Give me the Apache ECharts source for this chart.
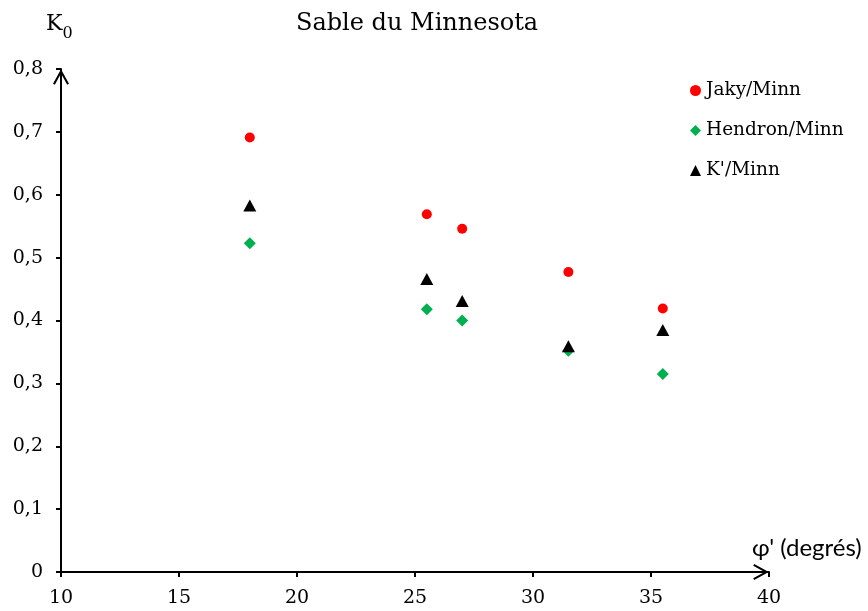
<!DOCTYPE html>
<html>
<head>
<meta charset="utf-8">
<script src="https://cdn.jsdelivr.net/npm/echarts@6/dist/echarts.min.js"></script>
<style>html,body{margin:0;padding:0;background:#fff}#c{width:868px;height:611px}</style>
</head>
<body>
<div id="c"></div>
<script>
const phi = [18, 25.5, 27, 31.5, 35.5];
const jaky = [0.691, 0.569, 0.546, 0.477, 0.419];
const hendron = [0.523, 0.418, 0.400, 0.352, 0.315];
const kprime = [0.583, 0.466, 0.431, 0.359, 0.385];
const seriesNames = ['Jaky/Minn', 'Hendron/Minn', "K'/Minn"];

const pair = (ys) => phi.map((x, i) => [x, ys[i]]);
const serif = 'DejaVu Serif';
const chevron = 'path://M8,0 L16,14.6 L14.2,15.6 L8,4.2 L1.8,15.6 L0,14.6 Z';

const chart = echarts.init(document.getElementById('c'), null, {renderer: 'canvas'});
chart.setOption({
  animation: false,
  backgroundColor: '#ffffff',
  title: [
    {text: 'Sable du Minnesota', left: 291, top: 7,
     textStyle: {fontFamily: serif, fontSize: 24, fontWeight: 'normal', color: '#000'}},
    {text: '{a|K}{b|0}', left: 41, top: 8,
     textStyle: {fontWeight: 'normal', rich: {
       a: {fontFamily: serif, fontSize: 22, fontWeight: 'normal', color: '#000', verticalAlign: 'bottom'},
       b: {fontFamily: serif, fontSize: 16, fontWeight: 'normal', color: '#000', verticalAlign: 'bottom', padding: [0, 0, -7, 0]}
     }}},
    {text: "φ' (degrés)", left: 747, top: 531,
     textStyle: {fontFamily: 'Lato', fontSize: 24, fontWeight: 'normal', color: '#000'}}
  ],
  legend: {
    orient: 'vertical', left: 685, top: 76,
    itemWidth: 11, itemHeight: 11, itemGap: 21,
    textStyle: {fontFamily: serif, fontSize: 18.5, color: '#000'},
    data: [
      {name: seriesNames[0], icon: 'circle'},
      {name: seriesNames[1], icon: 'diamond'},
      {name: seriesNames[2], icon: 'triangle'}
    ]
  },
  grid: {left: 61, right: 99, top: 69, bottom: 39, containLabel: false},
  xAxis: {
    type: 'value', min: 10, max: 40, interval: 5,
    splitLine: {show: false},
    axisLine: {lineStyle: {color: '#000', width: 2}, symbol: ['none', chevron], symbolSize: [16, 16], symbolOffset: [0, -8]},
    axisTick: {show: true, length: 5, lineStyle: {color: '#000', width: 2}},
    axisLabel: {fontFamily: serif, fontSize: 19, color: '#000', margin: 17}
  },
  yAxis: {
    type: 'value', min: 0, max: 0.8, interval: 0.1,
    splitLine: {show: false},
    axisLine: {lineStyle: {color: '#000', width: 2}, symbol: ['none', chevron], symbolSize: [16, 16], symbolOffset: [0, -8]},
    axisTick: {show: true, length: 5, lineStyle: {color: '#000', width: 2}},
    axisLabel: {fontFamily: serif, fontSize: 19, color: '#000', margin: 18,
      formatter: (v) => v === 0 ? '0' : v.toFixed(1).replace('.', ',')}
  },
  series: [
    {name: seriesNames[0], type: 'scatter', symbol: 'circle', symbolSize: 10,
     itemStyle: {color: '#ff0000', opacity: 1}, data: pair(jaky)},
    {name: seriesNames[1], type: 'scatter', symbol: 'diamond', symbolSize: 12,
     itemStyle: {color: '#00b050', opacity: 1}, data: pair(hendron)},
    {name: seriesNames[2], type: 'scatter', symbol: 'triangle', symbolSize: [13, 12],
     itemStyle: {color: '#000000', opacity: 1}, data: pair(kprime)}
  ]
});
</script>
</body>
</html>
